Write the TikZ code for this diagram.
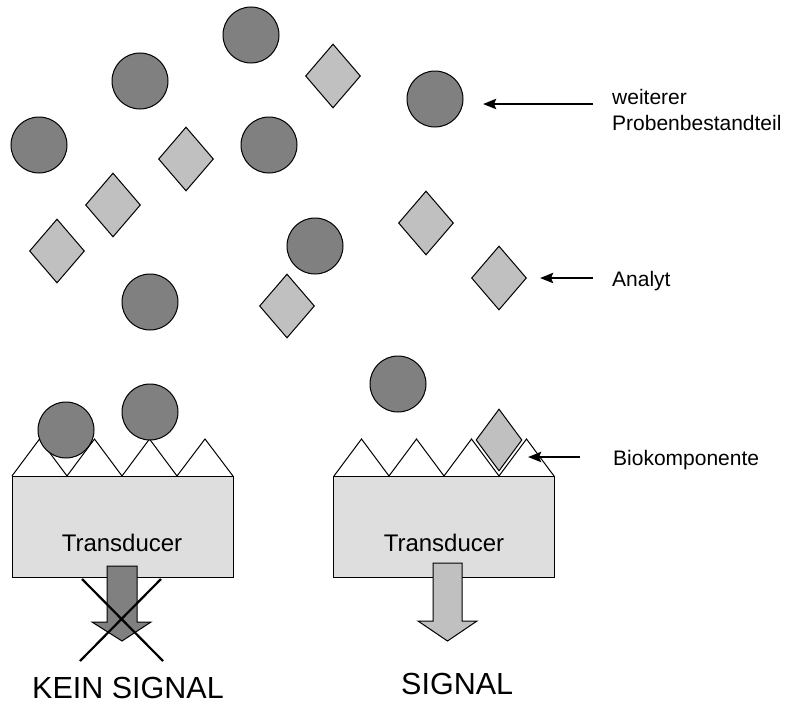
\documentclass[tikz,border=0pt]{standalone}
\usepackage{fontspec}
\setmainfont{Liberation Sans}
\usetikzlibrary{arrows.meta,shapes.geometric}
\definecolor{partdark}{HTML}{808080}
\definecolor{partlight}{HTML}{C0C0C0}
\definecolor{boxfill}{HTML}{DEDEDE}

\tikzset{
  particle/.style={circle, draw=black, fill=partdark, line width=1pt,
    minimum size=56pt, inner sep=0pt},
  analyte/.style={diamond, draw=black, fill=partlight, line width=1pt,
    minimum width=55pt, minimum height=64pt, inner sep=0pt},
  boundanalyte/.style={diamond, draw=black, fill=partlight, line width=1pt,
    minimum width=46pt, minimum height=62pt, inner sep=0pt},
  transducer/.style={rectangle, draw=black, fill=boxfill, line width=1pt,
    minimum width=221pt, minimum height=101pt, inner sep=0pt},
  receptors/.style={draw=black, line width=1pt, line join=miter},
  blockarrow/.style={draw=black, line width=1pt, line join=miter},
  labelarrow/.style={line width=2.6pt, -{Stealth[length=13pt,width=10pt,inset=2pt]}},
  smalltext/.style={inner sep=0pt, anchor=base west, font=\fontsize{21}{25.5}\selectfont},
  boxtext/.style={inner sep=0pt, anchor=base, font=\fontsize{24}{28}\selectfont},
  bigtext/.style={inner sep=0pt, anchor=base west, font=\fontsize{30.5}{34}\selectfont},
}

\begin{document}
\begin{tikzpicture}[x=1pt,y=-1pt]
  \useasboundingbox (0,0) rectangle (785,704);

  % free sample components and analytes
  \node[particle] (p1) at (251,35) {};
  \node[particle] (p2) at (140,81) {};
  \node[particle] (p3) at (39,145) {};
  \node[particle] (p4) at (269,145) {};
  \node[particle] (p5) at (315,246) {};
  \node[particle] (p6) at (150,302) {};
  \node[particle] (p7) at (435,99) {};

  \node[analyte] (a1) at (333,76) {};
  \node[analyte] (a2) at (186,159) {};
  \node[analyte] (a3) at (113,205) {};
  \node[analyte] (a4) at (57,251) {};
  \node[analyte] (a5) at (287,306) {};
  \node[analyte] (a6) at (426,223) {};
  \node[analyte] (a7) at (499,278) {};

  % labels with pointer arrows
  \node[smalltext, align=left] (lblprobe) at (612,130) {weiterer\\Probenbestandteil};
  \node[smalltext] (lblanalyt) at (612,286) {Analyt};
  \node[smalltext] (lblbio) at (613,465) {Biokomponente};
  \coordinate (tailprobe) at (593,104);
  \coordinate (tailanalyt) at (593,278);
  \coordinate (tailbio) at (580,457);
  \coordinate (tipprobe) at (483,104);
  \coordinate (tipanalyt) at (540,278);
  \coordinate (tipbio) at (528,457);
  \draw[labelarrow] (tailprobe) -- (tipprobe);
  \draw[labelarrow] (tailanalyt) -- (tipanalyt);
  \draw[labelarrow] (tailbio) -- (tipbio);

  % left sensor: non-target components, no signal
  \node[transducer] (tl) at (122.5,526.5) {};
  \node[boxtext] (tltext) at (122,551) {Transducer};
  \draw[receptors] (12,476) -- (39.5,439) -- (67,476) -- (94.5,439) -- (122,476)
    -- (149.5,439) -- (177,476) -- (205,439) -- (233,476);
  \node[particle] (bl1) at (66,430) {};
  \node[particle] (bl2) at (150,412) {};
  \draw[blockarrow, fill=partdark] (107,566) -- (137,566) -- (137,622) -- (151,622)
    -- (122,641) -- (92,622) -- (107,622) -- cycle;
  \draw[line width=2.2pt] (82,579) -- (163,661);
  \draw[line width=2.2pt] (161,579) -- (80,661);
  \node[bigtext] (nosig) at (32,698) {KEIN SIGNAL};

  % right sensor: bound analyte, signal
  \node[transducer] (tr) at (444,527) {};
  \node[boxtext] (trtext) at (444,551) {Transducer};
  \draw[receptors] (334,476) -- (361.5,439) -- (389,476) -- (416.5,439) -- (444,476)
    -- (471.5,439) -- (499,476) -- (526.5,439) -- (554,476);
  \node[boundanalyte] (ba) at (499,440) {};
  \node[particle] (br1) at (398,384) {};
  \draw[blockarrow, fill=partlight] (433,563) -- (462,563) -- (462,621) -- (477,621)
    -- (447.5,641) -- (418,621) -- (433,621) -- cycle;
  \node[bigtext] (sig) at (401,694) {SIGNAL};
\end{tikzpicture}
\end{document}
